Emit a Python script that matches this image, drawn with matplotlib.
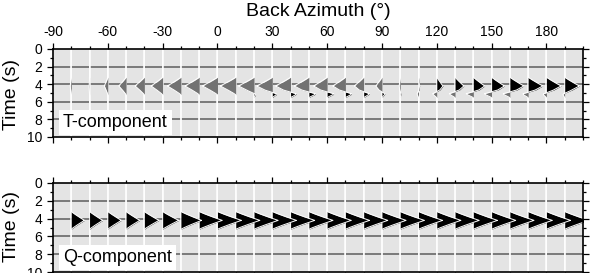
import numpy as np
import matplotlib
matplotlib.use("Agg")
import matplotlib.pyplot as plt
from matplotlib.ticker import MultipleLocator

plt.rcParams['font.family'] = ['Liberation Sans', 'DejaVu Sans']
plt.rcParams['axes.unicode_minus'] = False

# ---- data ----
back_azimuth = [-80, -70, -60, -50, -40, -30, -20, -10, 0, 10, 20, 30, 40, 50,
                60, 70, 80, 90, 100, 110, 120, 130, 140, 150, 160, 170, 180, 190]
# T-component: main arrival amplitude (deg of offset) at ~4.2 s
t_main_amp = [-0.6, -0.3, -1.9, -4.0, -5.1, -6.3, -7.4, -7.8, -8.2, -8.5, -8.5, -8.5, -8.2, -8.0,
              -7.4, -6.9, -5.1, -3.4, -0.6, 0.6, 3.4, 4.8, 6.2, 7.0, 7.6, 8.0, 8.0, 8.0]
# T-component: secondary arrival amplitude at ~5.0 s
t_sec_amp = [0, 0, 0, 0, 0, 0, 0, 0, 0, 0, 1.2, 3.0, 3.8, 4.3,
             4.3, 4.0, 3.6, 1.9, 0.4, -0.9, -2.6, -3.6, -4.5, -4.6, -4.4, -3.6, -2.4, -1.4]
# Q-component: main arrival amplitude at ~4.2 s
q_amp = [7.2, 7.2, 7.4, 7.5, 8.0, 8.8, 11.3, 12.6, 13.1, 13.2, 13.2, 13.2, 13.2, 13.2,
         13.2, 13.2, 13.2, 13.2, 13.2, 13.2, 13.2, 13.2, 13.2, 13.2, 13.2, 13.2, 13.2, 13.2]
main_time = 4.2
sec_time = 5.08
panel_labels = ["T-component", "Q-component"]
x_ticks = [-90, -60, -30, 0, 30, 60, 90, 120, 150, 180]

HW1 = 1.0    # half-width (s) of main pulse
HW2 = 0.45   # half-width (s) of secondary pulse
PW = 1.1

W, H = 591, 273
fig = plt.figure(figsize=(W / 100, H / 100), dpi=100)

left = 53 / W
width = (583 - 53) / W
ax_t = fig.add_axes([left, 1 - 137 / H, width, (137 - 49) / H])
ax_q = fig.add_axes([left, 1 - 272 / H, width, (272 - 183) / H])

t = np.linspace(0, 10, 4001)
BG = '#e4e4e4'
GRID = '#686868'
NEG = '#727272'


def pulse(t0, hw):
    return np.clip(1 - np.abs(t - t0) / hw, 0, None) ** PW


def draw_panel(ax, amps1, amps2, label, top_labels):
    ax.set_facecolor(BG)
    ax.set_xlim(-90, 200)
    ax.set_ylim(10, 0)
    for yy in [2, 4, 6, 8]:
        ax.axhline(yy, color=GRID, lw=1.2, zorder=1)
    for i, b in enumerate(back_azimuth):
        w = amps1[i] * pulse(main_time, HW1)
        if amps2 is not None:
            w = w + amps2[i] * pulse(sec_time, HW2)
        x = b + w
        ax.axvline(b, color='white', lw=1.1, zorder=1.5)
        ax.fill_betweenx(t, b, x, where=w > 0, interpolate=True,
                         color='black', lw=0, zorder=2)
        ax.fill_betweenx(t, b, x, where=w < 0, interpolate=True,
                         color=NEG, lw=0, zorder=2)
        ax.plot(x, t, color='white', lw=0.7, zorder=3, solid_capstyle='butt')
    ax.text(0.019, 0.165, label, transform=ax.transAxes, fontsize=13,
            ha='left', va='center', zorder=200,
            bbox=dict(boxstyle='square,pad=0.22', fc='white', ec='none'))
    ax.set_xticks(x_ticks)
    ax.xaxis.set_minor_locator(MultipleLocator(10))
    ax.yaxis.set_major_locator(MultipleLocator(2))
    ax.yaxis.set_minor_locator(MultipleLocator(1))
    ax.tick_params(which='both', direction='out', top=True, bottom=True,
                   left=True, right=True, width=0.9, color='black')
    ax.tick_params(which='major', length=4)
    ax.tick_params(which='minor', length=2.2)
    ax.tick_params(axis='x', labeltop=top_labels, labelbottom=False,
                   labelsize=10, pad=3)
    ax.tick_params(axis='y', labelsize=10, pad=4)
    for s in ax.spines.values():
        s.set_linewidth(1.2)
        s.set_zorder(300)
    ax.set_axisbelow(False)


draw_panel(ax_t, t_main_amp, t_sec_amp, panel_labels[0], True)
draw_panel(ax_q, q_amp, None, panel_labels[1], False)

fig.text((53 + 583) / 2 / W, 1 - 16.5 / H, "Back Azimuth (°)", fontsize=14,
         ha='center', va='baseline')
fig.text(11 / W, 1 - 95 / H, "Time (s)", fontsize=14, rotation=90,
         ha='center', va='center')
fig.text(11 / W, 1 - 226 / H, "Time (s)", fontsize=14, rotation=90,
         ha='center', va='center')

fig.savefig("out.png", dpi=100)
